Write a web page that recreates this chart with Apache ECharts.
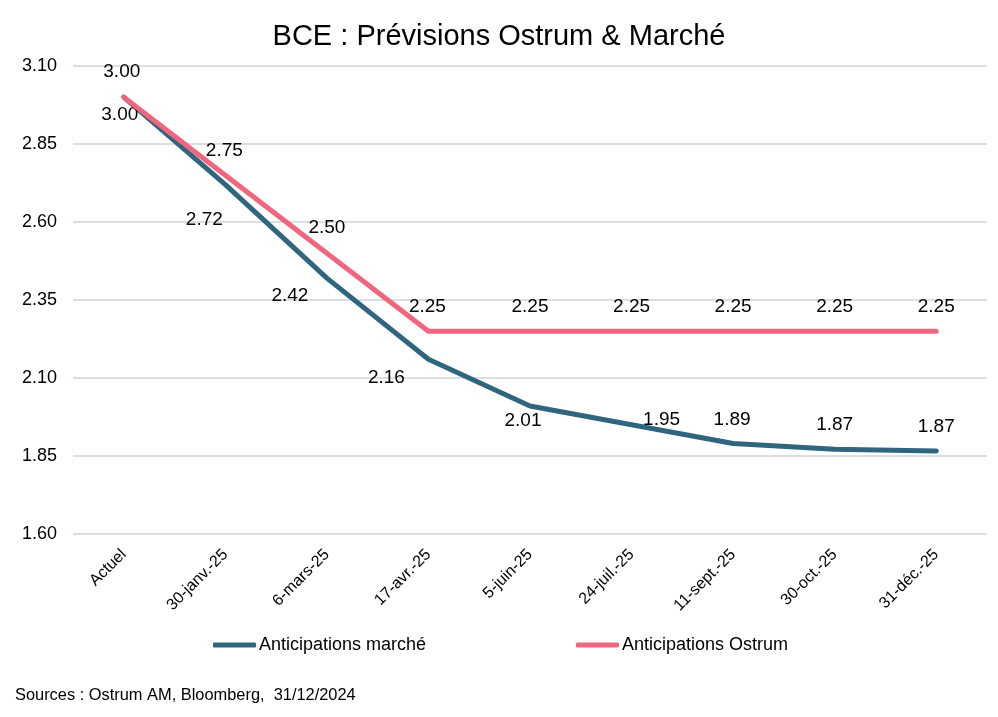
<!DOCTYPE html>
<html>
<head>
<meta charset="utf-8">
<script src="https://cdn.jsdelivr.net/npm/echarts@6/dist/echarts.min.js"></script>
<style>
html,body{margin:0;padding:0;background:#fff;}
#chart{width:998px;height:717px;}
</style>
</head>
<body>
<div id="chart"></div>
<script>
const categories = ['Actuel','30-janv.-25','6-mars-25','17-avr.-25','5-juin-25','24-juil.-25','11-sept.-25','30-oct.-25','31-déc.-25'];
const marche = [3.00, 2.72, 2.42, 2.16, 2.01, 1.95, 1.89, 1.872, 1.866];
const ostrum = [3.00, 2.75, 2.50, 2.25, 2.25, 2.25, 2.25, 2.25, 2.25];
const yTicks = [1.60, 1.85, 2.10, 2.35, 2.60, 2.85, 3.10];

// label offsets (presentation only)
const marcheLabelOffsets = [[-4,18],[-21,35],[-37,18],[-42,18],[-7,15],[30,-5],[-1,-24],[0,-24],[0,-24]];
const ostrumLabelOffsets = [[-2,-25],[-1,-24],[0,-25],[-1,-24],[0,-24],[0,-24],[0,-24],[0,-24],[0,-24]];

const FONT = 'Liberation Sans, Arial, sans-serif';
const cMarche = '#30657F';
const cOstrum = '#F1667E';

function buildData(vals, offs){
  return vals.map((v,i)=>({value:v, label:{offset:offs[i]}}));
}

const chart = echarts.init(document.getElementById('chart'));
chart.setOption({
  animation:false,
  backgroundColor:'#fff',
  title:{
    text:'BCE : Prévisions Ostrum & Marché',
    left:'center', top:17,
    textStyle:{fontFamily:FONT, fontSize:29, fontWeight:'normal', color:'#000'}
  },
  legend:[
    {data:[{name:'Anticipations marché', itemStyle:{color:cMarche, opacity:1}}], left:213, top:636, padding:0, icon:'roundRect', itemWidth:43, itemHeight:5, itemGap:0,
     textStyle:{fontFamily:FONT, fontSize:18, color:'#000', padding:[0,0,0,-2]}},
    {data:[{name:'Anticipations Ostrum', itemStyle:{color:cOstrum, opacity:1}}], left:576, top:636, padding:0, icon:'roundRect', itemWidth:43, itemHeight:5, itemGap:0,
     textStyle:{fontFamily:FONT, fontSize:18, color:'#000', padding:[0,0,0,-2]}}
  ],
  graphic:[{
    type:'text', left:15, top:687,
    style:{text:'Sources : Ostrum AM, Bloomberg,  31/12/2024', fontFamily:FONT, fontSize:16.4, fill:'#000'}
  }],
  grid:{left:73, right:11, top:66, bottom:183},
  xAxis:{
    type:'category', data:categories, boundaryGap:true,
    axisLine:{show:false}, axisTick:{show:false},
    axisLabel:{rotate:45, margin:18, fontFamily:FONT, fontSize:16, color:'#000', interval:0}
  },
  yAxis:{
    type:'value', min:1.60, max:3.10,
    axisLine:{show:false}, axisTick:{show:false, customValues:yTicks},
    axisLabel:{customValues:yTicks, margin:16, fontFamily:FONT, fontSize:18, color:'#000',
      formatter:v=>v.toFixed(2)},
    splitLine:{show:true, lineStyle:{color:'#D9E0E5', width:2}}
  },
  series:[
    {name:'Anticipations marché', type:'line', data:buildData(marche, marcheLabelOffsets),
     symbol:'circle', symbolSize:0.01, showSymbol:true,
     lineStyle:{color:cMarche, width:5, cap:'round', join:'round'},
     itemStyle:{color:cMarche},
     label:{show:true, position:'inside', fontFamily:FONT, fontSize:19, color:'#000',
       formatter:p=>p.value.toFixed(2)}, z:3},
    {name:'Anticipations Ostrum', type:'line', data:buildData(ostrum, ostrumLabelOffsets),
     symbol:'circle', symbolSize:0.01, showSymbol:true,
     lineStyle:{color:cOstrum, width:5, cap:'round', join:'round'},
     itemStyle:{color:cOstrum},
     label:{show:true, position:'inside', fontFamily:FONT, fontSize:19, color:'#000',
       formatter:p=>p.value.toFixed(2)}, z:4}
  ]
});
</script>
</body>
</html>
